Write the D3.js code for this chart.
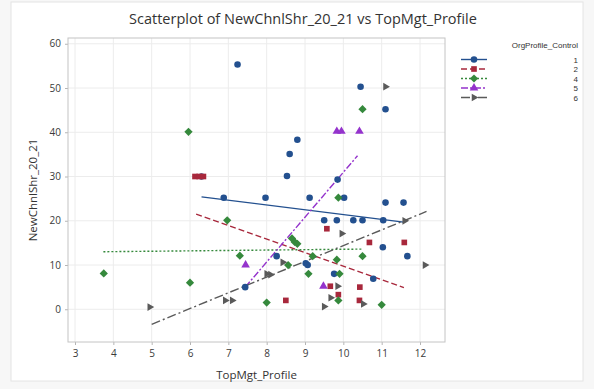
<!DOCTYPE html>
<html>
<head>
<meta charset="utf-8">
<script src="https://cdn.jsdelivr.net/npm/d3@7"></script>
<style>
  html, body { margin: 0; padding: 0; background: #f7f7f7; }
  svg { display: block; }
  text { font-family: "Open Sans", "Noto Sans", sans-serif; }
  .legend text { font-family: "Liberation Sans", Arial, sans-serif; }
</style>
</head>
<body>
<svg id="chart" width="594" height="389"></svg>
<script>
// Group codes of OrgProfile_Control
const groupCodes = ["1", "2", "4", "5", "6"];

// TopMgt_Profile (x) and NewChnlShr_20_21 (y) per group
const topMgt1 = [6.30, 6.88, 7.97, 9.12, 10.02, 11.10, 11.57, 9.50, 9.83, 10.26, 10.50, 11.04, 7.24, 10.45, 11.10, 8.80, 8.60, 8.53, 9.85, 8.26, 9.02, 9.07, 9.76, 10.78, 7.44, 11.03, 11.67];
const share1  = [30.0, 25.2, 25.2, 25.2, 25.2, 24.1, 24.1, 20.1, 20.1, 20.1, 20.1, 20.1, 55.3, 50.3, 45.2, 38.3, 35.1, 30.1, 29.3, 12.0, 10.4, 10.0, 8.0, 6.9, 5.0, 14.0, 12.0];

const topMgt2 = [6.13, 6.24, 6.35, 9.57, 10.68, 11.59, 9.66, 10.43, 9.87, 10.42, 8.50];
const share2  = [30.0, 30.0, 30.0, 18.2, 15.1, 15.1, 5.2, 5.0, 3.3, 2.0, 2.0];

const topMgt4 = [5.96, 10.50, 9.87, 6.97, 8.66, 8.73, 8.80, 7.30, 9.20, 9.83, 10.50, 3.75, 6.00, 9.09, 9.90, 8.56, 9.87, 8.00, 11.00];
const share4  = [40.1, 45.2, 25.2, 20.1, 16.0, 15.2, 14.8, 12.1, 12.0, 11.2, 12.0, 8.1, 6.0, 8.0, 8.0, 10.0, 2.0, 1.5, 1.0];

const topMgt5 = [7.45, 9.48, 9.83, 9.95, 10.42];
const share5  = [10.0, 5.2, 40.2, 40.2, 40.2];

const topMgt6 = [11.10, 9.96, 12.13, 9.85, 9.67, 10.52, 9.50, 4.95, 6.92, 7.10, 8.00, 8.10, 8.42, 11.60];
const share6  = [50.3, 17.1, 10.0, 5.2, 2.6, 1.2, 0.6, 0.5, 2.0, 2.0, 8.0, 7.8, 10.6, 20.0];

// Fitted regression line of each group: start and end (x, y)
const fitX0 = [6.30, 6.16, 3.74, 7.44, 5.00];
const fitY0 = [25.4, 21.5, 13.0, 5.0, -3.4];
const fitX1 = [11.57, 11.58, 10.52, 10.37, 12.17];
const fitY1 = [19.7, 4.9, 13.6, 34.7, 22.1];

// Axis ticks
const xTicks = [3, 4, 5, 6, 7, 8, 9, 10, 11, 12];
const yTicks = [0, 10, 20, 30, 40, 50, 60];

const groupX = [topMgt1, topMgt2, topMgt4, topMgt5, topMgt6];
const groupY = [share1, share2, share4, share5, share6];

const colors = ["#23508f", "#a8283c", "#35893c", "#9433cc", "#5a5a5a"];
const dashes = [null, "6,3", "2,2", "7,2,2,2", "9,3,2,3"];

// Right-pointing triangle
const triangleRight = {
  draw(ctx, size) {
    const s = Math.sqrt(size / 0.433) / 2;
    ctx.moveTo(s * 1.15, 0);
    ctx.lineTo(-s * 0.58, -s);
    ctx.lineTo(-s * 0.58, s);
    ctx.closePath();
  }
};
// Square turned 45 degrees
const squareDiamond = {
  draw(ctx, size) {
    const r = Math.sqrt(size / 2);
    ctx.moveTo(0, -r);
    ctx.lineTo(r, 0);
    ctx.lineTo(0, r);
    ctx.lineTo(-r, 0);
    ctx.closePath();
  }
};
const symbols = [
  d3.symbol(d3.symbolCircle, 34),
  d3.symbol(d3.symbolSquare, 32),
  d3.symbol(squareDiamond, 34),
  d3.symbol(d3.symbolTriangle, 32),
  d3.symbol(triangleRight, 26)
];

const svg = d3.select("#chart");

// Graph region
svg.append("rect")
  .attr("x", 11).attr("y", 2).attr("width", 572).attr("height", 379)
  .attr("fill", "#ffffff").attr("stroke", "#e4e4e4");

const plot = { left: 68, right: 445, top: 38, bottom: 342 };
const x = d3.scaleLinear().domain([2.817, 12.652]).range([plot.left, plot.right]);
const y = d3.scaleLinear().domain([-7.4, 61.3]).range([plot.bottom, plot.top]);

// Gridlines
const grid = svg.append("g").attr("stroke", "#ececec").attr("stroke-width", 1);
grid.selectAll("line.v").data(xTicks).join("line")
  .attr("x1", d => x(d)).attr("x2", d => x(d))
  .attr("y1", plot.top).attr("y2", plot.bottom);
grid.selectAll("line.h").data(yTicks).join("line")
  .attr("x1", plot.left).attr("x2", plot.right)
  .attr("y1", d => y(d)).attr("y2", d => y(d));

// Axes
const xAxis = d3.axisBottom(x).tickValues(xTicks).tickSize(3).tickPadding(5).tickFormat(d3.format("d"));
const yAxis = d3.axisLeft(y).tickValues(yTicks).tickSize(3).tickPadding(4).tickFormat(d3.format("d"));
const gx = svg.append("g").attr("transform", `translate(0,${plot.bottom})`).call(xAxis);
const gy = svg.append("g").attr("transform", `translate(${plot.left},0)`).call(yAxis);
[gx, gy].forEach(g => {
  g.select(".domain").remove();
  g.selectAll(".tick line").attr("stroke", "#b5b5b5");
  g.selectAll(".tick text").attr("fill", "#3a3a3a").style("font-size", "10px");
});

// Data region frame
svg.append("rect")
  .attr("x", plot.left).attr("y", plot.top)
  .attr("width", plot.right - plot.left).attr("height", plot.bottom - plot.top)
  .attr("fill", "none").attr("stroke", "#c4c4c4");

// Fit lines
const fits = svg.append("g");
groupCodes.forEach((g, i) => {
  fits.append("line")
    .attr("x1", x(fitX0[i])).attr("y1", y(fitY0[i]))
    .attr("x2", x(fitX1[i])).attr("y2", y(fitY1[i]))
    .attr("stroke", colors[i]).attr("stroke-width", 1.4)
    .attr("stroke-dasharray", dashes[i]);
});

// Points
groupCodes.forEach((g, i) => {
  const pts = groupX[i].map((v, k) => [v, groupY[i][k]]);
  svg.append("g").selectAll("path").data(pts).join("path")
    .attr("d", symbols[i])
    .attr("transform", d => `translate(${x(d[0])},${y(d[1])})`)
    .attr("fill", colors[i]);
});

// Titles
svg.append("text")
  .attr("x", 303).attr("y", 24).attr("text-anchor", "middle")
  .attr("fill", "#333").style("font-size", "14.5px")
  .text("Scatterplot of NewChnlShr_20_21 vs TopMgt_Profile");
svg.append("text")
  .attr("x", (plot.left + plot.right) / 2).attr("y", 379).attr("text-anchor", "middle")
  .attr("fill", "#333").style("font-size", "11.5px")
  .text("TopMgt_Profile");
svg.append("text")
  .attr("transform", `translate(37,${(plot.top + plot.bottom) / 2}) rotate(-90)`)
  .attr("text-anchor", "middle")
  .attr("fill", "#333").style("font-size", "11.5px")
  .text("NewChnlShr_20_21");

// Legend
const legend = svg.append("g").attr("class", "legend");
legend.append("text")
  .attr("x", 578).attr("y", 48).attr("text-anchor", "end")
  .attr("fill", "#333").style("font-size", "8px")
  .text("OrgProfile_Control");
groupCodes.forEach((g, i) => {
  const ly = 59.5 + i * 9.5;
  legend.append("line")
    .attr("x1", 461).attr("x2", 487).attr("y1", ly).attr("y2", ly)
    .attr("stroke", colors[i]).attr("stroke-width", 1.4)
    .attr("stroke-dasharray", dashes[i]);
  legend.append("path")
    .attr("d", symbols[i])
    .attr("transform", `translate(474,${ly})`)
    .attr("fill", colors[i]);
  legend.append("text")
    .attr("x", 578).attr("y", ly + 3).attr("text-anchor", "end")
    .attr("fill", "#333").style("font-size", "8px")
    .text(g);
});
</script>
</body>
</html>
